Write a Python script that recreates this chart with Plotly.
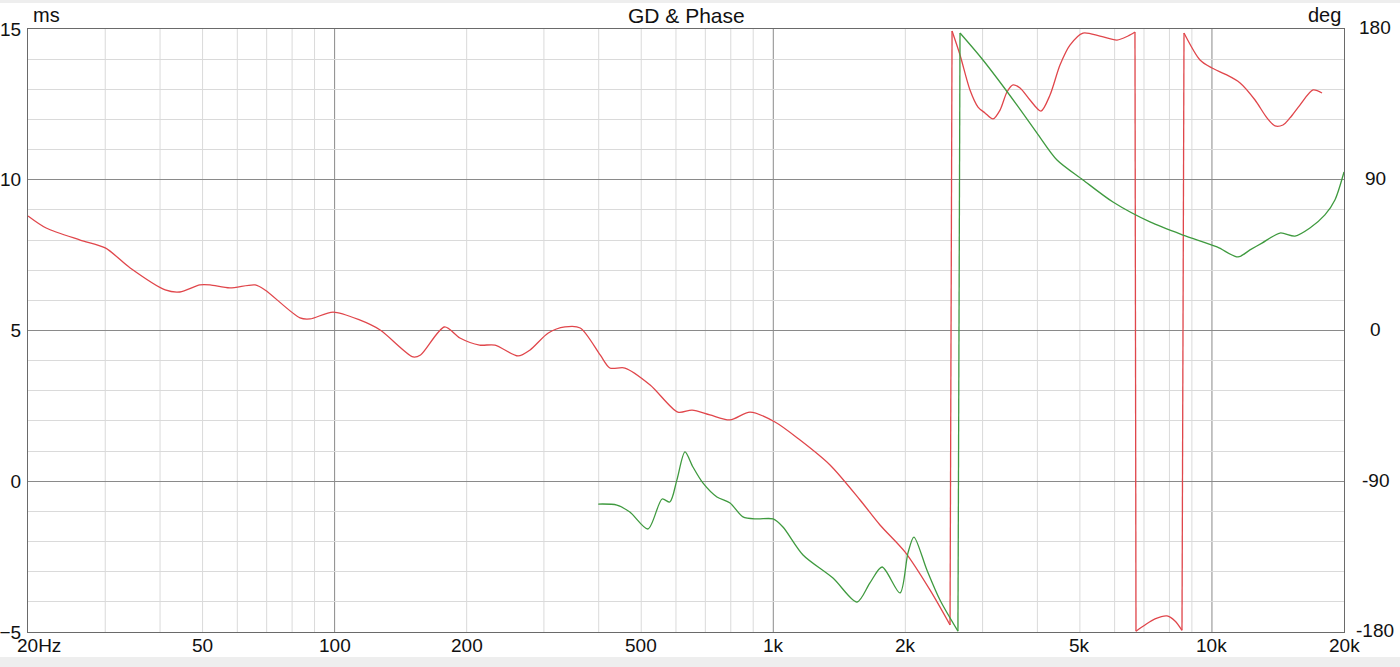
import plotly.graph_objects as go
import math

# ---------------- data ----------------
red_freq = [20, 22, 26.3, 30, 34.2, 41.1, 44.4, 49.3, 52, 57.7, 65.9, 69.4, 83.4, 87.9, 99.2,
            114, 127, 151, 157, 178, 193, 214, 232, 262, 279, 307, 335, 363, 403, 424, 459,
            524, 606, 653, 717, 797, 885, 1009, 1151, 1347, 1577, 1751, 1996, 2276, 2529,
            2556, 2665, 2808, 2929, 3038, 3169, 3288, 3410, 3520, 3652, 3848, 4076, 4274,
            4504, 4746, 5082, 5556, 6076, 6436, 6676,
            6712, 7036, 7416, 7898, 8236, 8545,
            8636, 9392, 10000, 10710, 11592, 12538, 13350, 13924, 14518, 15060, 15870, 16998, 17820]
red_phase = [68.4, 61.2, 54.0, 49.3, 37.3, 24.2, 23.0, 27.2, 27.2, 25.4, 27.2, 24.2, 7.5, 6.9, 11.0,
             6.3, 0.3, -15.8, -14.6, 2.1, -4.5, -8.7, -8.7, -15.2, -11.6, -1.5, 2.1, 1.5, -14.6, -22.4, -22.4,
             -32.5, -48.7, -47.5, -50.4, -53.4, -48.7, -54.6, -65.4, -80.3, -101.2, -116.1, -132.2, -154.9, -175.8,
             178.8, 164.5, 143.6, 133.4, 129.9, 126.3, 131.6, 142.4, 146.6, 144.8, 137.6, 131.0, 140.6,
             158.5, 170.4, 177.6, 175.8, 173.4, 175.8, 178.2,
             -179.5, -175.8, -172.2, -170.4, -173.4, -179.0,
             177.6, 161.5, 156.7, 153.1, 147.8, 137.6, 126.9, 122.1, 122.7, 126.9, 134.6, 143.6, 141.8]

green_freq = [399, 440, 471, 518, 558, 581, 603, 629, 656, 691, 744, 797, 853, 918, 999, 1052,
              1169, 1368, 1552, 1661, 1770, 1945, 2028, 2092, 2240, 2399, 2636,
              2665, 3006, 3594, 3992, 4434, 5082, 5948, 7224, 8590, 10270, 11466, 12210, 13002,
              14296, 15464, 16726, 18094, 19068, 20000]
green_phase = [-103.6, -104.2, -108.4, -118.5, -100.6, -102.4, -89.2, -72.5, -81.5, -91.0, -99.4, -103.0,
               -111.3, -112.5, -112.5, -117.3, -134.0, -147.8, -162.1, -150.7, -141.2, -156.7, -132.8,
               -123.3, -143.0, -160.9, -179.5,
               177.6, 161.5, 134.6, 117.9, 101.8, 89.9, 76.7, 64.8, 57.0, 49.9, 43.9, 48.1, 52.2,
               58.2, 56.4, 61.2, 69.0, 77.9, 94.6]

x_tick_vals = [20, 50, 100, 200, 500, 1000, 2000, 5000, 10000, 20000]
x_tick_text = ["20Hz", "50", "100", "200", "500", "1k", "2k", "5k", "10k", "20k"]
x_minor = [30, 40, 50, 60, 70, 80, 90, 200, 300, 400, 500, 600, 700, 800, 900,
           2000, 3000, 4000, 5000, 6000, 7000, 8000, 9000]
x_major = [100, 1000, 10000]
ms_ticks = [-5, 0, 5, 10, 15]
ms_minor = [v for v in range(-4, 15) if v % 5 != 0]
deg_ticks = [-180, -90, 0, 90, 180]

RED = "#e0464b"
GREEN = "#3f9a3f"
FONT = "Liberation Sans, Arial, sans-serif"
TICK_SIZE = 19

fig = go.Figure()
fig.add_trace(go.Scatter(x=[], y=[], xaxis="x", yaxis="y", showlegend=False))


def add_series(freq, phase, color):
    segs = [[0]]
    for i in range(1, len(phase)):
        if abs(phase[i] - phase[i - 1]) > 200:
            segs.append([i])
        else:
            segs[-1].append(i)
    for s in segs:
        fig.add_trace(go.Scatter(x=[freq[i] for i in s], y=[phase[i] for i in s],
                                 mode="lines", yaxis="y2", showlegend=False,
                                 line=dict(color=color, width=1.3, shape="spline", smoothing=0.8),
                                 hoverinfo="skip"))
    for a, b in zip(segs[:-1], segs[1:]):
        i, j = a[-1], b[0]
        fig.add_trace(go.Scatter(x=[freq[i], freq[j]], y=[phase[i], phase[j]],
                                 mode="lines", yaxis="y2", showlegend=False,
                                 line=dict(color=color, width=1.3), hoverinfo="skip"))


add_series(red_freq, red_phase, RED)
add_series(green_freq, green_phase, GREEN)

lx0 = math.log10(20)
span = math.log10(20000) - lx0


def xp(f):
    return (math.log10(f) - lx0) / span


shapes = []
for f in x_minor:
    shapes.append(dict(type="line", xref="paper", yref="paper", x0=xp(f), x1=xp(f), y0=0, y1=1,
                       line=dict(color="#dadada", width=1), layer="below"))
for f in x_major:
    shapes.append(dict(type="line", xref="paper", yref="paper", x0=xp(f), x1=xp(f), y0=0, y1=1,
                       line=dict(color="#8a8a8a", width=1), layer="below"))
shapes.append(dict(type="rect", xref="paper", yref="paper", x0=-0.05, x1=1.1, y0=-0.0415, y1=-0.1,
                   fillcolor="#eeeeee", line=dict(width=0), layer="below"))
shapes.append(dict(type="rect", xref="paper", yref="paper", x0=-0.05, x1=1.1, y0=1.043, y1=1.1,
                   fillcolor="#eeeeee", line=dict(width=0), layer="below"))

annotations = [
    dict(text="GD & Phase", xref="paper", yref="paper", x=0.5, y=1.023,
         xanchor="center", yanchor="middle", showarrow=False, font=dict(size=21)),
    dict(text="ms", xref="paper", yref="paper", x=0.002, y=1.024,
         xanchor="left", yanchor="middle", showarrow=False, font=dict(size=20)),
    dict(text="deg", xref="paper", yref="paper", x=0.9995, y=1.024,
         xanchor="right", yanchor="middle", showarrow=False, font=dict(size=20)),
]
for f, t in zip(x_tick_vals, x_tick_text):
    if f == 20:
        annotations.append(dict(text=t, xref="paper", yref="paper", x=-0.0095, y=-0.0216,
                                xanchor="left", yanchor="middle", showarrow=False,
                                font=dict(size=TICK_SIZE)))
    else:
        annotations.append(dict(text=t, xref="paper", yref="paper", x=xp(f), y=-0.0216,
                                xanchor="center", yanchor="middle", showarrow=False,
                                font=dict(size=TICK_SIZE)))
for d in deg_ticks:
    annotations.append(dict(text=str(d), xref="paper", yref="paper", x=1.0236,
                            y=(d + 180) / 360 + 0.002,
                            xanchor="center", yanchor="middle", showarrow=False,
                            font=dict(size=TICK_SIZE)))

fig.update_layout(
    width=1400, height=667,
    margin=dict(l=28, r=56, t=29, b=35, autoexpand=False),
    paper_bgcolor="white", plot_bgcolor="white",
    font=dict(family=FONT, size=TICK_SIZE, color="#111111"),
    showlegend=False,
    shapes=shapes,
    annotations=annotations,
    xaxis=dict(type="log", range=[math.log10(20), math.log10(20000)],
               showticklabels=False, ticks="", showgrid=False, automargin=False,
               showline=True, mirror=True, linecolor="#6a6a6a", linewidth=1,
               zeroline=False),
    yaxis=dict(range=[-5, 15], tickvals=ms_ticks, ticks="", automargin=False,
               showgrid=True, gridcolor="#8a8a8a", gridwidth=1,
               minor=dict(tickvals=ms_minor, showgrid=True, gridcolor="#dadada", gridwidth=1, ticks=""),
               showline=True, mirror=True, linecolor="#6a6a6a", linewidth=1,
               zeroline=False, tickfont=dict(size=TICK_SIZE), ticklabelstandoff=2),
    yaxis2=dict(range=[-180, 180], tickvals=deg_ticks, overlaying="y", side="right",
                showgrid=False, zeroline=False, ticks="", showline=False,
                showticklabels=False, automargin=False),
)

fig.write_html("out.html", config={"displayModeBar": False},
               post_script="document.body.style.margin='0';document.body.style.overflow='hidden';")
